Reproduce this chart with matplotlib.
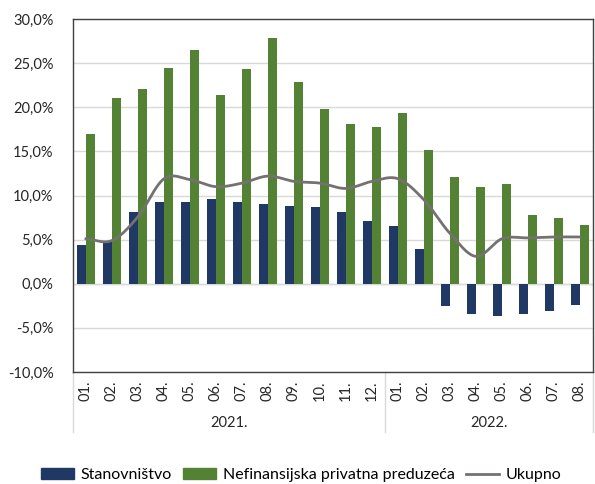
import numpy as np
import matplotlib.pyplot as plt
from matplotlib.patches import Patch
from matplotlib.lines import Line2D

plt.rcParams['font.family'] = ['Lato', 'DejaVu Sans']

months = ['01.', '02.', '03.', '04.', '05.', '06.', '07.', '08.', '09.', '10.', '11.', '12.',
          '01.', '02.', '03.', '04.', '05.', '06.', '07.', '08.']
years = ['2021.', '2022.']
year_sizes = [12, 8]

stanovnistvo = [4.4, 4.7, 8.1, 9.3, 9.3, 9.6, 9.3, 9.0, 8.8, 8.7, 8.1, 7.1,
                6.6, 3.9, -2.5, -3.4, -3.6, -3.4, -3.1, -2.4]
preduzeca = [17.0, 21.1, 22.1, 24.5, 26.5, 21.4, 24.3, 27.8, 22.9, 19.8, 18.1, 17.8,
             19.4, 15.1, 12.1, 11.0, 11.3, 7.8, 7.5, 6.7]
ukupno = [5.1, 4.9, 7.6, 11.9, 11.8, 11.0, 11.4, 12.2, 11.6, 11.4, 10.8, 11.6,
          11.9, 9.5, 5.7, 3.1, 5.1, 5.2, 5.3, 5.3]

BLUE = '#1f3864'
GREEN = '#548235'
GRAY = '#767171'


def smooth(y, n=20):
    # Catmull-Rom curve through the points, like Excel's smoothed line
    y = np.asarray(y, dtype=float)
    p = np.concatenate([[2 * y[0] - y[1]], y, [2 * y[-1] - y[-2]]])
    xs, ys = [], []
    for i in range(len(y) - 1):
        p0, p1, p2, p3 = p[i], p[i + 1], p[i + 2], p[i + 3]
        t = np.linspace(0, 1, n, endpoint=False)
        v = 0.5 * (2 * p1 + (-p0 + p2) * t + (2 * p0 - 5 * p1 + 4 * p2 - p3) * t ** 2
                   + (-p0 + 3 * p1 - 3 * p2 + p3) * t ** 3)
        xs.append(i + t)
        ys.append(v)
    xs.append([len(y) - 1])
    ys.append([y[-1]])
    return np.concatenate(xs), np.concatenate(ys)


fig = plt.figure(figsize=(5.95, 4.84), dpi=100)
ax = fig.add_axes([73 / 595, 1 - 372 / 484, 520 / 595, 353 / 484])

x = np.arange(len(months))
w = 0.35
ax.bar(x - w / 2, stanovnistvo, w, color=BLUE, zorder=3)
ax.bar(x + w / 2, preduzeca, w, color=GREEN, zorder=3)
sx, sy = smooth(ukupno)
ax.plot(sx, sy, color=GRAY, lw=2, zorder=4)

ax.set_xlim(-0.5, len(months) - 0.5)
ax.set_ylim(-10, 30)
ax.set_yticks(np.arange(-10, 31, 5))
ax.set_yticklabels([f'{v:.1f}%'.replace('.', ',') for v in np.arange(-10, 31, 5)])
ax.grid(axis='y', color='#d9d9d9', lw=1, zorder=0)
ax.axhline(0, color='#d9d9d9', lw=1, zorder=1)
for s in ax.spines.values():
    s.set_color('#404040')
    s.set_linewidth(1)
ax.tick_params(axis='y', length=0, labelsize=10.5, colors='#262626', pad=14)
ax.set_xticks(x)
ax.set_xticklabels(months, rotation=90, fontsize=10.5, color='#262626')
ax.tick_params(axis='x', length=0, pad=6)

# year group labels and separators below the axis
trans = ax.get_xaxis_transform()
start = -0.5
for yr, n in zip(years, year_sizes):
    ax.text(start + n / 2, -0.145, yr, transform=trans, ha='center', va='center',
            fontsize=10.5, color='#262626')
    start += n
for b in [-0.5, 11.5, 19.5]:
    ax.plot([b, b], [0, -0.17], transform=trans, color='#d9d9d9', lw=1, clip_on=False)

handles = [Patch(color=BLUE), Patch(color=GREEN), Line2D([], [], color=GRAY, lw=2)]
fig.legend(handles, ['Stanovništvo', 'Nefinansijska privatna preduzeća', 'Ukupno'],
           loc='center', bbox_to_anchor=(0.506, 1 - 475 / 484), ncol=3, frameon=False,
           fontsize=11.5, handlelength=2.06, handleheight=0.65, columnspacing=0.75,
           handletextpad=0.4)

fig.savefig('out.png', dpi=100)
